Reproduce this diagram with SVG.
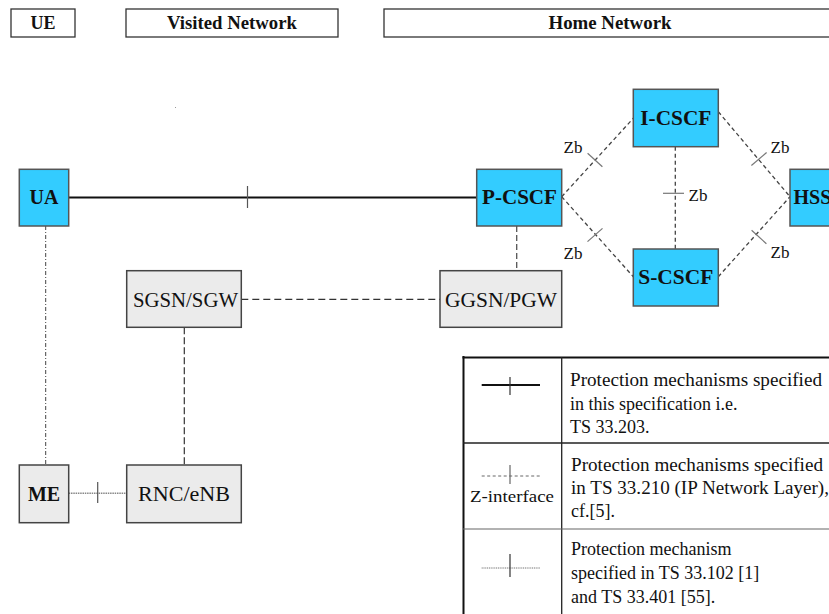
<svg xmlns="http://www.w3.org/2000/svg" width="829" height="614" viewBox="0 0 829 614">
<style>
.hdr{fill:#fff;stroke:#333;stroke-width:1.3}
.ht{font-family:"Liberation Serif",serif;font-weight:bold;font-size:18px;fill:#111;text-anchor:middle}
.blue{fill:#33CCFF;stroke:#555;stroke-width:1.5}
.grey{fill:#EBEBEB;stroke:#444;stroke-width:1.5}
.nb{font-family:"Liberation Serif",serif;font-weight:bold;font-size:20px;fill:#111;text-anchor:middle}
.nbs{font-family:"Liberation Serif",serif;font-weight:bold;font-size:20px;fill:#111;text-anchor:start}
.nr{font-family:"Liberation Serif",serif;font-size:20px;fill:#111;text-anchor:middle}
.zb{font-family:"Liberation Serif",serif;font-size:17px;fill:#111;text-anchor:middle}
.lt{font-family:"Liberation Serif",serif;font-size:18px;fill:#111}
.dash{fill:none;stroke:#444;stroke-width:1.3;stroke-dasharray:4 3}
.tick{stroke:#777;stroke-width:1.2}
</style>
<rect width="829" height="614" fill="#fff"/>
<g id="headers">
<rect class="hdr" x="11" y="9" width="64" height="28"/>
<text class="ht" x="43" y="29">UE</text>
<rect class="hdr" x="126" y="9" width="212" height="28"/>
<text class="ht" x="232" y="29" textLength="130" lengthAdjust="spacingAndGlyphs">Visited Network</text>
<rect class="hdr" x="384" y="9" width="456" height="28"/>
<text class="ht" x="610" y="29" textLength="123" lengthAdjust="spacingAndGlyphs">Home Network</text>
</g>
<rect x="175" y="107" width="1" height="1" fill="#999"/>
<g id="connectors">
<line x1="68.7" y1="197.5" x2="476.7" y2="197.5" stroke="#111" stroke-width="2"/>
<line x1="247.5" y1="186" x2="247.5" y2="208" stroke="#555" stroke-width="1.2"/>
<line class="dash" x1="561.7" y1="196.7" x2="633.3" y2="118.3"/>
<line class="dash" x1="561.7" y1="196.7" x2="633.3" y2="276.7"/>
<line class="dash" x1="718.3" y1="111.7" x2="790" y2="196.7"/>
<line class="dash" x1="718.3" y1="276.7" x2="790" y2="196.7"/>
<line class="dash" x1="675.3" y1="146.7" x2="675.3" y2="249"/>
<line class="tick" x1="587.6" y1="153.3" x2="602.4" y2="166.7"/>
<line class="tick" x1="587.5" y1="241.6" x2="602.5" y2="228.4"/>
<line class="tick" x1="751.4" y1="165.5" x2="766.6" y2="152.5"/>
<line class="tick" x1="751.6" y1="230.3" x2="766.4" y2="243.7"/>
<line class="tick" x1="663" y1="193.3" x2="684" y2="193.3"/>
<line x1="516.7" y1="226" x2="516.7" y2="271" stroke="#555" stroke-width="1.3" stroke-dasharray="6 3"/>
<line x1="241.3" y1="299.3" x2="440" y2="299.3" stroke="#333" stroke-width="1.2" stroke-dasharray="7 4"/>
<line x1="184.3" y1="327.3" x2="184.3" y2="465" stroke="#333" stroke-width="1.2" stroke-dasharray="7 3"/>
<line x1="45.7" y1="226" x2="45.7" y2="465" stroke="#444" stroke-width="1" stroke-dasharray="4 2 1 2"/>
<line x1="68.7" y1="493.3" x2="126.7" y2="493.3" stroke="#888" stroke-width="1.5" stroke-dasharray="1.5 0.8"/>
<line x1="97.7" y1="482" x2="97.7" y2="503" stroke="#555" stroke-width="1.2"/>
</g>
<g id="zb-labels">
<text class="zb" x="573" y="153">Zb</text>
<text class="zb" x="573" y="259">Zb</text>
<text class="zb" x="780" y="153">Zb</text>
<text class="zb" x="780" y="258">Zb</text>
<text class="zb" x="698" y="201">Zb</text>
</g>
<g id="UA"><rect class="blue" x="19.3" y="169.3" width="49.4" height="56.7"/><text class="nb" x="44" y="204">UA</text></g>
<g id="P-CSCF"><rect class="blue" x="476.7" y="169.3" width="85" height="56.7"/><text class="nb" x="519.5" y="204" textLength="75" lengthAdjust="spacingAndGlyphs">P-CSCF</text></g>
<g id="I-CSCF"><rect class="blue" x="633.3" y="89.3" width="85" height="57.4"/><text class="nb" x="675.8" y="125" textLength="71" lengthAdjust="spacingAndGlyphs">I-CSCF</text></g>
<g id="S-CSCF"><rect class="blue" x="633.3" y="249" width="85" height="57"/><text class="nb" x="675.8" y="284" textLength="75" lengthAdjust="spacingAndGlyphs">S-CSCF</text></g>
<g id="HSS"><rect class="blue" x="790" y="169.3" width="60" height="56.7"/><text class="nbs" x="793.5" y="204">HSS</text></g>
<g id="GGSN-PGW"><rect class="grey" x="440" y="270.7" width="121.7" height="56.6"/><text class="nr" x="501" y="306.5" textLength="112" lengthAdjust="spacingAndGlyphs">GGSN/PGW</text></g>
<g id="SGSN-SGW"><rect class="grey" x="126.7" y="270.7" width="114.6" height="56.6"/><text class="nr" x="185.5" y="306.5" textLength="105" lengthAdjust="spacingAndGlyphs">SGSN/SGW</text></g>
<g id="ME"><rect class="grey" x="19.3" y="465" width="49.4" height="57.7"/><text class="nb" x="44" y="501">ME</text></g>
<g id="RNC-eNB"><rect class="grey" x="126.7" y="465" width="114.6" height="57.7"/><text class="nr" x="184" y="501" textLength="92" lengthAdjust="spacingAndGlyphs">RNC/eNB</text></g>
<g id="legend">
<line x1="463.5" y1="356" x2="463.5" y2="614" stroke="#111" stroke-width="2"/>
<line x1="462.5" y1="357.5" x2="829" y2="357.5" stroke="#111" stroke-width="2"/>
<line x1="561.7" y1="357" x2="561.7" y2="614" stroke="#222" stroke-width="1.3"/>
<line x1="463" y1="443" x2="829" y2="443" stroke="#222" stroke-width="1.3"/>
<line x1="463" y1="529" x2="829" y2="529" stroke="#666" stroke-width="1.2"/>
<line x1="481.7" y1="385" x2="540" y2="385" stroke="#111" stroke-width="2"/>
<line x1="510" y1="377" x2="510" y2="395" stroke="#333" stroke-width="1.2"/>
<line x1="481.7" y1="476" x2="540" y2="476" stroke="#666" stroke-width="1" stroke-dasharray="3 2.5"/>
<line x1="510" y1="465" x2="510" y2="484" stroke="#666" stroke-width="1.2"/>
<text class="zb" x="512" y="502" textLength="84" lengthAdjust="spacingAndGlyphs">Z-interface</text>
<line x1="481.7" y1="568" x2="540" y2="568" stroke="#666" stroke-width="1" stroke-dasharray="1 0.8"/>
<line x1="510" y1="554" x2="510" y2="577" stroke="#333" stroke-width="1.2"/>
<text class="lt" x="570" y="386" textLength="252" lengthAdjust="spacingAndGlyphs">Protection mechanisms specified</text>
<text class="lt" x="570" y="410">in this specification i.e.</text>
<text class="lt" x="570" y="433">TS 33.203.</text>
<text class="lt" x="571" y="471" textLength="252" lengthAdjust="spacingAndGlyphs">Protection mechanisms specified</text>
<text class="lt" x="571" y="494" textLength="258" lengthAdjust="spacingAndGlyphs">in TS 33.210 (IP Network Layer),</text>
<text class="lt" x="571" y="517">cf.[5].</text>
<text class="lt" x="571" y="555">Protection mechanism</text>
<text class="lt" x="571" y="579">specified in TS 33.102 [1]</text>
<text class="lt" x="571" y="603">and TS 33.401 [55].</text>
</g>
</svg>
